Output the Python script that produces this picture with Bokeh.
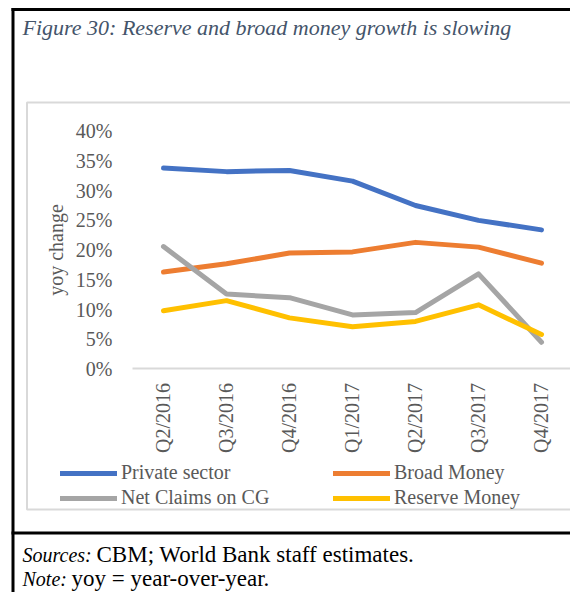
import math
from bokeh.plotting import figure
from bokeh.models import (Range1d, FixedTicker, NumeralTickFormatter, Legend, LegendItem,
                          Label, BoxAnnotation, LinearAxis)
from bokeh.embed import file_html
from bokeh.resources import INLINE

quarters = ["Q2/2016", "Q3/2016", "Q4/2016", "Q1/2017", "Q2/2017", "Q3/2017", "Q4/2017"]
private_sector = [0.338, 0.332, 0.334, 0.316, 0.275, 0.250, 0.234]
broad_money = [0.163, 0.177, 0.195, 0.197, 0.213, 0.205, 0.178]
net_claims_cg = [0.206, 0.126, 0.120, 0.091, 0.095, 0.160, 0.045]
reserve_money = [0.098, 0.115, 0.086, 0.071, 0.080, 0.108, 0.058]
y_ticks = [0, 0.05, 0.10, 0.15, 0.20, 0.25, 0.30, 0.35, 0.40]

FONT = "Liberation Serif"
GREY_TXT = "#595959"

W, H = 570, 592
# frame covers the whole canvas; axes are pinned inside it
p = figure(width=W, height=H, output_backend="svg", toolbar_location=None,
           x_range=Range1d(-2.5873, 6.4603), y_range=Range1d(-0.37595, 0.61985),
           x_axis_location=None, y_axis_location=None,
           min_border_left=0, min_border_right=0, min_border_top=0, min_border_bottom=0)
p.outline_line_color = None
p.grid.grid_line_color = None
p.background_fill_color = "white"
p.border_fill_color = "white"

xs = list(range(len(quarters)))
series = [
    ("Private sector", private_sector, "#4472C4"),
    ("Broad Money", broad_money, "#ED7D31"),
    ("Net Claims on CG", net_claims_cg, "#A5A5A5"),
    ("Reserve Money", reserve_money, "#FFC000"),
]
rends = []
for name, ys, col in series:
    r = p.line(xs, ys, line_color=col, line_width=5, line_cap="round", line_join="round")
    rends.append(r)

# y axis
yaxis = LinearAxis(fixed_location=-0.492, bounds=(0, 0.40))
yaxis.ticker = FixedTicker(ticks=y_ticks)
yaxis.formatter = NumeralTickFormatter(format="0%")
yaxis.axis_line_color = None
yaxis.major_tick_line_color = None
yaxis.minor_tick_line_color = None
yaxis.major_tick_out = 0
yaxis.major_tick_in = 0
yaxis.major_label_standoff = 20
yaxis.major_label_text_font = FONT
yaxis.major_label_text_font_size = "20px"
yaxis.major_label_text_color = GREY_TXT
yaxis.axis_label = "yoy change"
yaxis.axis_label_text_font = FONT
yaxis.axis_label_text_font_style = "normal"
yaxis.axis_label_text_font_size = "20px"
yaxis.axis_label_text_color = GREY_TXT
yaxis.axis_label_standoff = 6
p.add_layout(yaxis, "left")

# x axis
xaxis = LinearAxis(fixed_location=0, bounds=(-0.492, 6.4603))
xaxis.ticker = FixedTicker(ticks=xs)
xaxis.major_label_overrides = {i: q for i, q in enumerate(quarters)}
xaxis.major_label_orientation = math.pi / 2
xaxis.axis_line_color = "#D9D9D9"
xaxis.axis_line_width = 2
xaxis.major_tick_line_color = None
xaxis.minor_tick_line_color = None
xaxis.major_tick_out = 0
xaxis.major_tick_in = 0
xaxis.major_label_standoff = 14
xaxis.major_label_text_font = FONT
xaxis.major_label_text_font_size = "20px"
xaxis.major_label_text_color = GREY_TXT
p.add_layout(xaxis, "below")

# legends (two columns)
def make_legend(items, loc):
    return Legend(items=items, location=loc, orientation="vertical",
                  background_fill_alpha=0, border_line_color=None,
                  padding=0, margin=0, spacing=2,
                  glyph_width=57, glyph_height=20, label_height=20,
                  label_standoff=4, label_text_font=FONT, label_text_font_size="20px",
                  label_text_color=GREY_TXT)

leg1 = make_legend([LegendItem(label=series[0][0], renderers=[rends[0]]),
                    LegendItem(label=series[2][0], renderers=[rends[2]])], (60, 83))
leg2 = make_legend([LegendItem(label=series[1][0], renderers=[rends[1]]),
                    LegendItem(label=series[3][0], renderers=[rends[3]])], (333, 83))
p.add_layout(leg1, "center")
p.add_layout(leg2, "center")

def cbox(**kw):
    return BoxAnnotation(left_units="canvas", right_units="canvas",
                         top_units="canvas", bottom_units="canvas", **kw)

# frames
p.add_layout(cbox(left=26.5, right=590, top=102, bottom=509,
                  fill_alpha=0, line_color="#D9D9D9", line_width=2, line_alpha=1))
p.add_layout(cbox(left=11, right=590, top=7.5, bottom=10.5,
                  fill_color="black", fill_alpha=1, line_color=None))
p.add_layout(cbox(left=11, right=14, top=7.5, bottom=600,
                  fill_color="black", fill_alpha=1, line_color=None))
p.add_layout(cbox(left=11, right=590, top=531, bottom=534,
                  fill_color="black", fill_alpha=1, line_color=None))

# texts
def ctext(x, y, text, **kw):
    return Label(x=x, y=y, x_units="canvas", y_units="canvas", text=text,
                 text_font=FONT, text_baseline="alphabetic", **kw)

p.add_layout(ctext(22, 27, "Figure 30: Reserve and broad money growth is slowing",
                   text_font_style="italic", text_font_size="22px", text_color="#44546A"))
p.add_layout(ctext(22, 554, "Sources:", text_font_style="italic",
                   text_font_size="20px", text_color="black"))
p.add_layout(ctext(96, 554, "CBM; World Bank staff estimates.",
                   text_font_size="23px", text_color="black"))
p.add_layout(ctext(22, 578, "Note:", text_font_style="italic",
                   text_font_size="20px", text_color="black"))
p.add_layout(ctext(71, 578, "yoy = year-over-year.",
                   text_font_size="23px", text_color="black"))

open("out.html", "w").write(file_html(p, INLINE))
